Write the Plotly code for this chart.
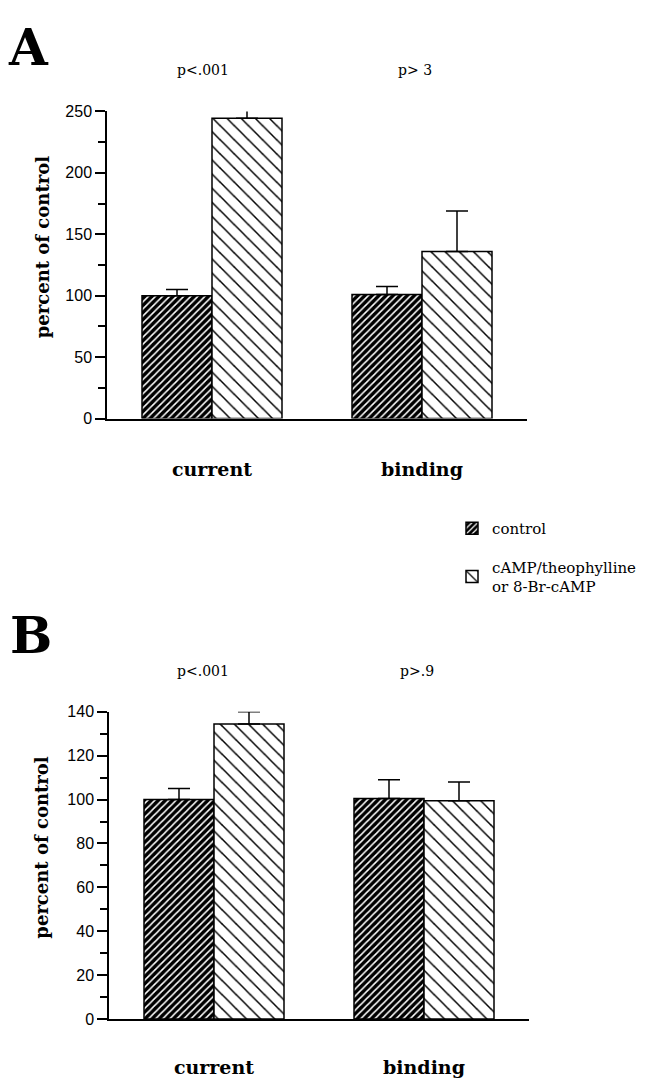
import plotly.graph_objects as go

# The page has an 8px body margin; the figure starts at (8, 8) in the window
OFF = 8
W, H = 649 - OFF, 1085 - OFF

categories = ["current", "binding"]

# Panel A values (percent of control)
a_control = [100, 101]
a_control_err = [5, 6.5]
a_treat = [244.5, 136]
a_treat_err = [13, 33]
a_pvals = ["p<.001", "p> 3"]

# Panel B values
b_control = [100, 100.5]
b_control_err = [5, 8.5]
b_treat = [134.5, 99.5]
b_treat_err = [5.5, 8.5]
b_pvals = ["p<.001", "p>.9"]

series_names = ["control", "cAMP/theophylline<br>or 8-Br-cAMP"]


def px_x(p):
    return (p - OFF) / W


def px_y(p):
    return (H - (p - OFF)) / H


ctrl_pattern = dict(shape="/", bgcolor="black", fgcolor="white", size=5, solidity=0.3, fillmode="replace")
treat_pattern = dict(shape="\\", bgcolor="white", fgcolor="black", size=10, solidity=0.15, fillmode="replace")

fig = go.Figure()


def add_panel(ctrl, ctrl_err, treat, treat_err, xa, ya, show):
    fig.add_trace(go.Bar(
        x=categories, y=ctrl, name=series_names[0], xaxis=xa, yaxis=ya,
        marker=dict(color="black", pattern=ctrl_pattern, line=dict(color="black", width=1.5)),
        error_y=dict(type="data", array=ctrl_err, arrayminus=[0] * len(ctrl_err), symmetric=False,
                     color="black", thickness=1.5, width=11),
        showlegend=show, legendgroup="g1",
    ))
    fig.add_trace(go.Bar(
        x=categories, y=treat, name=series_names[1], xaxis=xa, yaxis=ya,
        marker=dict(color="white", pattern=treat_pattern, line=dict(color="black", width=1.5)),
        error_y=dict(type="data", array=treat_err, arrayminus=[0] * len(treat_err), symmetric=False,
                     color="black", thickness=1.5, width=11),
        showlegend=show, legendgroup="g2",
    ))


add_panel(a_control, a_control_err, a_treat, a_treat_err, "x", "y", True)
add_panel(b_control, b_control_err, b_treat, b_treat_err, "x2", "y2", False)

tickfont = dict(family="Liberation Sans, Arial, sans-serif", size=16, color="black")
catfont = dict(family="DejaVu Serif, serif", size=19, color="black", weight="bold")

xcommon = dict(showgrid=False, zeroline=False, showline=True, linecolor="black", linewidth=1.5,
               ticks="", tickfont=catfont, range=[-0.5, 1.5], fixedrange=True)
ycommon = dict(showgrid=False, zeroline=False, showline=True, linecolor="black", linewidth=1.5,
               ticks="outside", ticklen=10, tickwidth=1.5, tickcolor="black", tickfont=tickfont)

fig.update_layout(
    width=W, height=H,
    margin=dict(l=0, r=0, t=0, b=0),
    paper_bgcolor="white", plot_bgcolor="white",
    barmode="group", bargap=1/3, bargroupgap=0,
    xaxis=dict(domain=[px_x(107), px_x(527)], anchor="y", ticklabelstandoff=33, **xcommon),
    yaxis=dict(domain=[px_y(417), px_y(105)], anchor="x", range=[0, 250], tickvals=[0, 50, 100, 150, 200, 250],
               minor=dict(dtick=25, tick0=0, ticks="outside", ticklen=7, tickwidth=1.5, tickcolor="black"),
               **ycommon),
    xaxis2=dict(domain=[px_x(109), px_x(529)], anchor="y2", ticklabelstandoff=31, **xcommon),
    yaxis2=dict(domain=[px_y(1027), px_y(715)], anchor="x2", range=[0, 140],
                tickvals=[0, 20, 40, 60, 80, 100, 120, 140],
                minor=dict(dtick=10, tick0=0, ticks="outside", ticklen=7, tickwidth=1.5, tickcolor="black"),
                **ycommon),
    legend=dict(x=px_x(452), y=px_y(512), xanchor="left", yanchor="top",
                font=dict(family="DejaVu Serif, serif", size=15, color="black"),
                tracegroupgap=16, bgcolor="rgba(0,0,0,0)"),
)

serif = "DejaVu Serif, serif"
ann = []
ann.append(dict(text="<b>A</b>", x=px_x(28), y=1, yanchor="top", font=dict(family=serif, size=50, color="black")))
ann.append(dict(text="<b>B</b>", x=px_x(31), y=px_y(637), font=dict(family=serif, size=50, color="black")))
ann.append(dict(text="<b>percent of control</b>", x=px_x(42), y=px_y(243), textangle=-90,
                font=dict(family=serif, size=18, color="black")))
ann.append(dict(text="<b>percent of control</b>", x=px_x(42), y=px_y(853), textangle=-90,
                font=dict(family=serif, size=18, color="black")))
for xp, t in zip([203, 415], a_pvals):
    ann.append(dict(text=t, x=px_x(xp), y=px_y(63), font=dict(family=serif, size=14, color="black")))
for xp, t in zip([203, 417], b_pvals):
    ann.append(dict(text=t, x=px_x(xp), y=px_y(673), font=dict(family=serif, size=14, color="black")))
for a in ann:
    a.setdefault("yanchor", "middle")
    a.update(xref="paper", yref="paper", showarrow=False, xanchor="center")
fig.update_layout(annotations=ann)

fig.write_html("out.html")
